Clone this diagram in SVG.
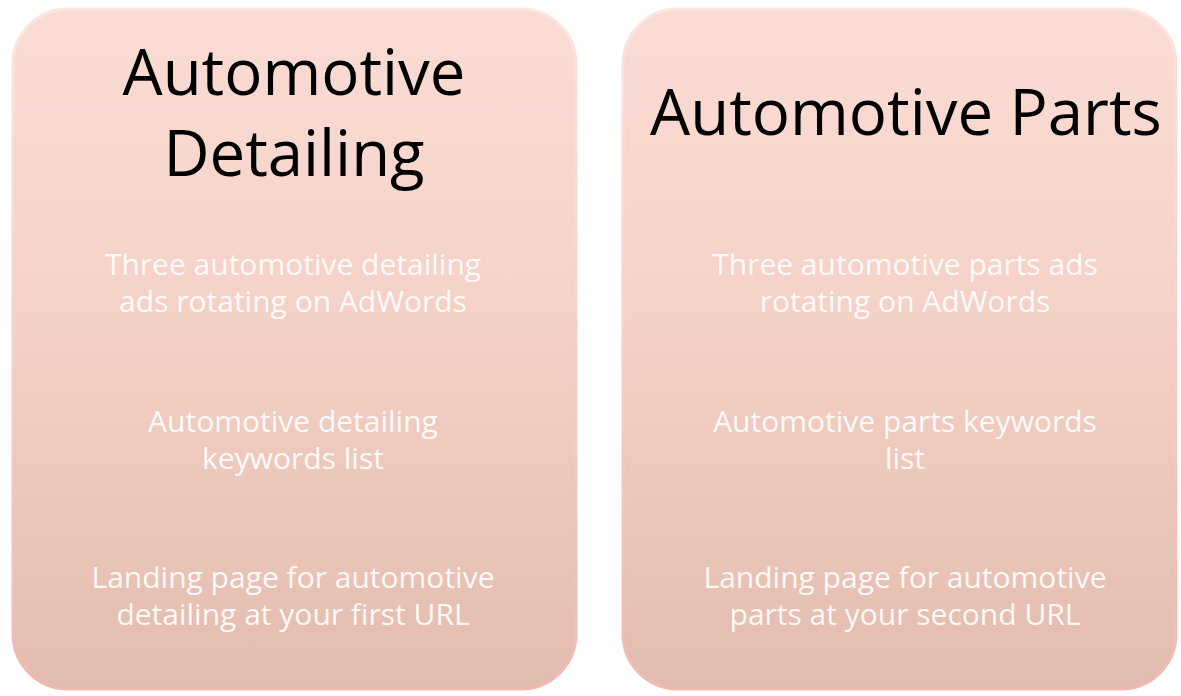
<svg xmlns="http://www.w3.org/2000/svg" width="1181" height="696" viewBox="0 0 1181 696">
  <defs>
    <linearGradient id="boxFill" x1="0" y1="0" x2="0" y2="1">
      <stop offset="0" stop-color="#fadcd4"/>
      <stop offset="0.4" stop-color="#f6d3c9"/>
      <stop offset="1" stop-color="#e2bcae"/>
    </linearGradient>
    <linearGradient id="edge" x1="0" y1="0" x2="0" y2="1">
      <stop offset="0" stop-color="#fbe6e0"/>
      <stop offset="1" stop-color="#efb9b3"/>
    </linearGradient>
  </defs>
  <style>
    .box { fill: url(#boxFill); stroke: url(#edge); stroke-width: 3; }
    .title { font-family: "Open Sans", "Noto Sans", sans-serif; font-size: 63.5px; fill: #000000; text-anchor: middle; }
    .body { font-family: "Open Sans", "Noto Sans", sans-serif; font-size: 30px; fill: #ffffff; fill-opacity: 0.92; text-anchor: middle; }
  </style>
  <rect width="1181" height="696" fill="#ffffff"/>
  <g id="node-detailing">
    <rect class="box" x="13" y="9" width="563" height="680" rx="55" ry="55"/>
    <text class="title" x="294" y="95">Automotive</text>
    <text class="title" x="294" y="176">Detailing</text>
    <text class="body" x="293" y="275">Three automotive detailing</text>
    <text class="body" x="293" y="312">ads rotating on AdWords</text>
    <text class="body" x="293" y="432">Automotive detailing</text>
    <text class="body" x="293" y="469">keywords list</text>
    <text class="body" x="293" y="588">Landing page for automotive</text>
    <text class="body" x="293" y="625">detailing at your first URL</text>
  </g>
  <g id="node-parts">
    <rect class="box" x="623" y="9" width="553" height="680" rx="55" ry="55"/>
    <text class="title" x="906" y="135">Automotive Parts</text>
    <text class="body" x="905" y="275">Three automotive parts ads</text>
    <text class="body" x="905" y="312">rotating on AdWords</text>
    <text class="body" x="905" y="432">Automotive parts keywords</text>
    <text class="body" x="905" y="469">list</text>
    <text class="body" x="905" y="588">Landing page for automotive</text>
    <text class="body" x="905" y="625">parts at your second URL</text>
  </g>
  <g id="connectors"/>
</svg>
